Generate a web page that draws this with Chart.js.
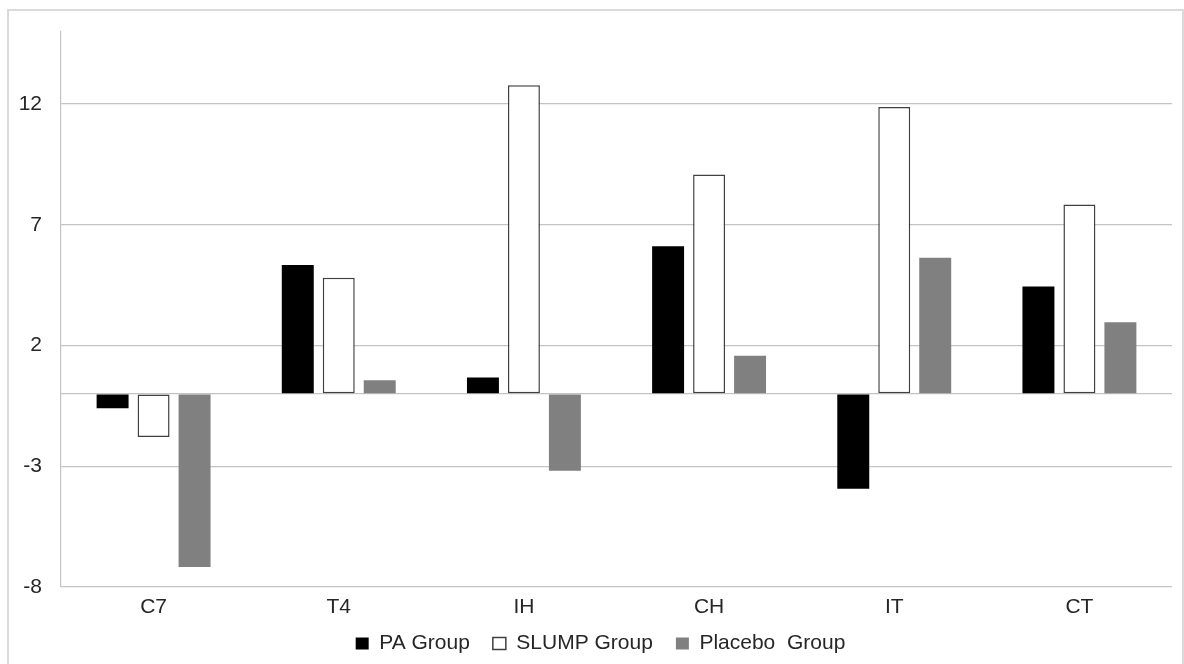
<!DOCTYPE html>
<html>
<head>
<meta charset="utf-8">
<script src="https://cdn.jsdelivr.net/npm/chart.js@4.4.1/dist/chart.umd.min.js"></script>
<style>
    html, body { margin: 0; padding: 0; background: #fff; overflow: hidden; }
    .chart-container { position: absolute; left: 0; top: 0; width: 1184px; height: 664px; }
    .frame {
        position: absolute; left: 7px; top: 9px; width: 1173px; height: 700px;
        border: 2px solid #dadada; pointer-events: none;
    }
</style>
</head>
<body>
<div class="chart-container"><canvas id="groupChart"></canvas></div>
<div class="frame"></div>
<script>
// values
const categories = ['C7', 'T4', 'IH', 'CH', 'IT', 'CT'];
const seriesNames = ['PA Group', 'SLUMP Group', 'Placebo  Group'];
const paGroup = [-0.6, 5.33, 0.68, 6.11, -3.93, 4.44];
const slumpGroup = [-1.79, 4.81, 12.78, 9.08, 11.88, 7.84];
const placeboGroup = [-7.17, 0.56, -3.19, 1.58, 5.63, 2.96];
const yTickValues = [-8, -3, 2, 7, 12];
const yMin = -8;
const yMax = 15;

const fontFamily = '"Liberation Sans", Arial, sans-serif';
const fontSize = 21;
const textColor = '#262626';

// chart.js clips tick labels to each scale's box; the boxes are kept narrow
// for the layout, so widen them again once the layout is done
const labelAreaPlugin = {
    id: 'labelArea',
    afterLayout(chart) {
        chart.scales.y.left = 0;
        chart.scales.x.bottom = chart.height;
    }
};

function createGroupChart() {
    const ctx = document.getElementById('groupChart').getContext('2d');

    new Chart(ctx, {
        type: 'bar',
        data: {
            labels: categories,
            datasets: [
                {
                    label: seriesNames[0],
                    data: paGroup,
                    backgroundColor: '#000000',
                    borderColor: '#000000',
                    borderWidth: 0
                },
                {
                    label: seriesNames[1],
                    data: slumpGroup,
                    backgroundColor: '#ffffff',
                    borderColor: '#404040',
                    borderWidth: 1.5,
                    borderSkipped: false
                },
                {
                    label: seriesNames[2],
                    data: placeboGroup,
                    backgroundColor: '#808080',
                    borderColor: '#808080',
                    borderWidth: 0
                }
            ]
        },
        plugins: [labelAreaPlugin],
        options: {
            responsive: true,
            maintainAspectRatio: false,
            animation: false,
            categoryPercentage: 0.664,
            barPercentage: 0.78,
            layout: {
                // left padding only moves the legend centre, the y axis takes the rest
                padding: { top: 29, right: 12, bottom: 0, left: 29 }
            },
            scales: {
                x: {
                    grid: { display: false, drawTicks: false },
                    border: { display: false },
                    ticks: {
                        color: textColor,
                        padding: 8,
                        font: { family: fontFamily, size: fontSize }
                    },
                    afterFit: (scale) => { scale.height = 23; }
                },
                y: {
                    min: yMin,
                    max: yMax,
                    afterBuildTicks: (scale) => {
                        // zero line is drawn as a grid line without a label
                        const vals = yTickValues.concat([0]).sort((a, b) => a - b);
                        scale.ticks = vals.map(v => ({ value: v }));
                    },
                    afterFit: (scale) => { scale.width = 32; },
                    grid: {
                        color: '#c4c4c4',
                        lineWidth: 1.2,
                        drawTicks: false
                    },
                    border: { display: true, color: '#c4c4c4', width: 1.2 },
                    ticks: {
                        color: textColor,
                        padding: 19,
                        font: { family: fontFamily, size: fontSize },
                        callback: (value) => (value === 0 ? '' : value)
                    }
                }
            },
            plugins: {
                legend: {
                    position: 'bottom',
                    labels: {
                        color: textColor,
                        boxWidth: 13,
                        boxHeight: 12,
                        padding: 23,
                        font: { family: fontFamily, size: fontSize }
                    }
                },
                tooltip: { enabled: false }
            }
        }
    });
}

document.addEventListener('DOMContentLoaded', () => {
    createGroupChart();
});
</script>
</body>
</html>
